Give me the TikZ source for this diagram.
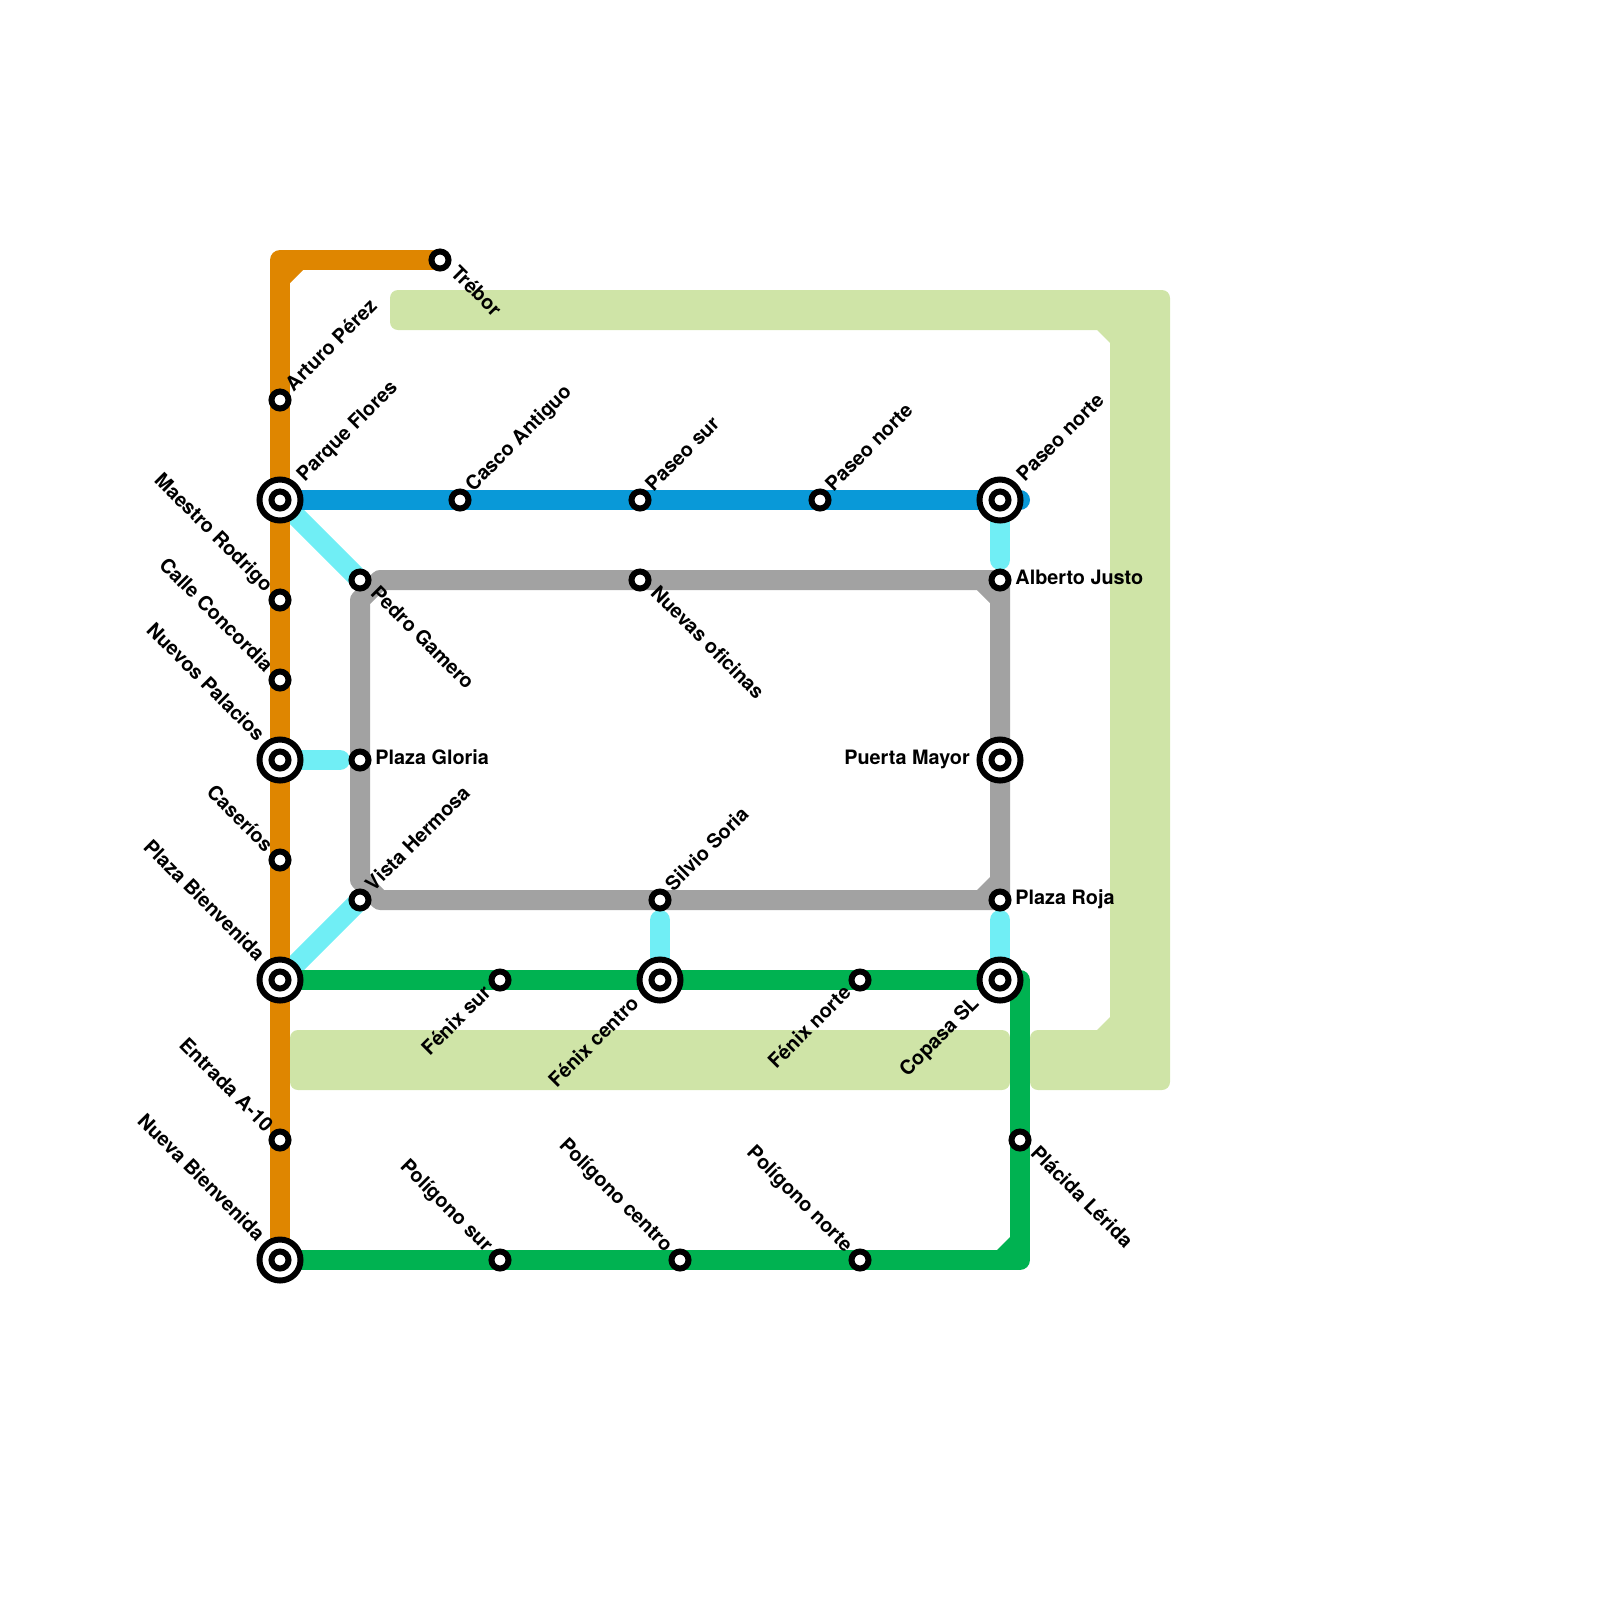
\documentclass[tikz,border=0pt]{standalone}
\usepackage{fontspec}
\setmainfont{TeX Gyre Heros}
\usepackage{tikz}
\pgfdeclarelayer{lines}
\pgfsetlayers{lines,main}
\definecolor{lineOrange}{RGB}{223,134,0}
\definecolor{lineBlue}{RGB}{9,153,216}
\definecolor{lineGreen}{RGB}{0,178,81}
\definecolor{lineCyan}{RGB}{112,238,245}
\definecolor{lineGrey}{RGB}{162,162,162}
\definecolor{zone}{RGB}{207,228,167}
\newcommand{\newStop}[4]{\node[stop](#1) at (#2){}; \node[stopLabel,#4](#1Label) at (#1){#3};}
\newcommand{\newHub}[4]{\node[hub](#1) at (#2){}; \node[stop](#1Core) at (#1){}; \node[stopLabel,#4](#1Label) at (#1){#3};}
\newcommand{\newChamfer}[4]{\fill[#1] (#2) -- (#3) -- (#4) -- cycle;}

\begin{document}
\begin{tikzpicture}[
    % One unit is one cell of the map grid
    x=.5cm,y=-.5cm,
    % Default line look
    mapLine/.style={line width=.5cm,line cap=round,line join=round},
    toStop/.style={shorten >=.5cm},
    % Stations
    stop/.style={circle,draw=black,fill=white,line width=.15cm,minimum size=.425cm,inner sep=0pt},
    hub/.style={circle,draw=black,fill=white,line width=.15cm,minimum size=1.025cm,inner sep=0pt},
    stopLabel/.style={inner sep=0pt,font=\bfseries\fontsize{14.1}{16}\selectfont},
    % Label sides, small stop
    labNE/.style={xshift=.336cm,yshift=.194cm,rotate=45,anchor=base west},
    labSE/.style={xshift=.234cm,yshift=-.346cm,rotate=-45,anchor=base west},
    labNW/.style={xshift=-.376cm,yshift=.174cm,rotate=-45,anchor=base east},
    labSW/.style={xshift=-.194cm,yshift=-.346cm,rotate=45,anchor=base east},
    labE/.style={xshift=.38cm,yshift=-.11cm,anchor=base west},
    % Label sides, hub
    hubNE/.style={xshift=.616cm,yshift=.444cm,rotate=45,anchor=base west},
    hubNW/.style={xshift=-.586cm,yshift=.444cm,rotate=-45,anchor=base east},
    hubSW/.style={xshift=-.494cm,yshift=-.616cm,rotate=45,anchor=base east},
    hubW/.style={xshift=-.75cm,yshift=-.11cm,anchor=base east}
    ]
    \useasboundingbox (0,0) rectangle (80,80);

    % Orange line
    \newStop{trebor}{22,13}{Trébor}{labSE}
    \newStop{arturo}{14,20}{Arturo Pérez}{labNE}
    \newHub{parque}{14,25}{Parque Flores}{hubNE}
    \newStop{maestro}{14,30}{Maestro Rodrigo}{labNW}
    \newStop{calle}{14,34}{Calle Concordia}{labNW}
    \newHub{palacios}{14,38}{Nuevos Palacios}{hubNW}
    \newStop{caserios}{14,43}{Caseríos}{labNW}
    \newHub{bienvenida}{14,49}{Plaza Bienvenida}{hubNW}
    \newStop{entrada}{14,57}{Entrada A-10}{labNW}
    \newHub{nueva}{14,63}{Nueva Bienvenida}{hubNW}

    % Blue line
    \newStop{casco}{23,25}{Casco Antiguo}{labNE}
    \newStop{paseoSur}{32,25}{Paseo sur}{labNE}
    \newStop{paseoNorte}{41,25}{Paseo norte}{labNE}
    \newHub{paseoEste}{50,25}{Paseo norte}{hubNE}
    \coordinate (blueEnd) at (51,25);

    % Grey line
    \newStop{gamero}{18,29}{Pedro Gamero}{labSE}
    \newStop{oficinas}{32,29}{Nuevas oficinas}{labSE}
    \newStop{alberto}{50,29}{Alberto Justo}{labE}
    \newStop{gloria}{18,38}{Plaza Gloria}{labE}
    \newHub{puerta}{50,38}{Puerta Mayor}{hubW}
    \newStop{hermosa}{18,45}{Vista Hermosa}{labNE}
    \newStop{silvio}{33,45}{Silvio Soria}{labNE}
    \newStop{roja}{50,45}{Plaza Roja}{labE}

    % Green line
    \newStop{fenixSur}{25,49}{Fénix sur}{labSW}
    \newHub{fenixCentro}{33,49}{Fénix centro}{hubSW}
    \newStop{fenixNorte}{43,49}{Fénix norte}{labSW}
    \newHub{copasa}{50,49}{Copasa SL}{hubSW}
    \newStop{placida}{51,57}{Plácida Lérida}{labSE}
    \newStop{poligonoSur}{25,63}{Polígono sur}{labNW}
    \newStop{poligonoCentro}{34,63}{Polígono centro}{labNW}
    \newStop{poligonoNorte}{43,63}{Polígono norte}{labNW}

    \begin{pgfonlayer}{lines}
    % Zone behind the lines
    \fill[zone,rounded corners=.2cm] (19.5,14.5) -- (58.5,14.5) -- (58.5,54.5) -- (51.5,54.5) -- (51.5,51.5)
        [sharp corners] -- (54.85,51.5) -- (55.5,50.85) -- (55.5,17.15) -- (54.85,16.5)
        [rounded corners=.2cm] -- (19.5,16.5) -- cycle;
    \fill[zone,rounded corners=.2cm] (14.5,51.5) rectangle (50.5,54.5);

    \draw[mapLine,lineCyan] (parque.center) -- (gamero.center);
    \draw[mapLine,lineCyan,toStop] (palacios.center) -- (gloria.center);
    \draw[mapLine,lineCyan] (bienvenida.center) -- (hermosa.center);
    \draw[mapLine,lineCyan,toStop] (paseoEste.center) -- (alberto.center);
    \draw[mapLine,lineCyan,toStop] (copasa.center) -- (roja.center);
    \draw[mapLine,lineCyan,toStop] (fenixCentro.center) -- (silvio.center);

    \draw[mapLine,lineBlue] (parque.center) -- (blueEnd);

    \draw[mapLine,lineGrey] (19,29) -- (alberto.center) -- (roja.center) -- (19,45) -- (18,44) -- (18,30) -- cycle;
    \newChamfer{lineGrey}{48.85,29.5}{49.5,29.5}{49.5,30.15}
    \newChamfer{lineGrey}{48.85,44.5}{49.5,44.5}{49.5,43.85}

    \draw[mapLine,lineGreen] (bienvenida.center) -| (placida.center) |- (nueva.center);
    \newChamfer{lineGreen}{49.85,62.5}{50.5,62.5}{50.5,61.85}

    \draw[mapLine,lineOrange] (trebor.center) -| (nueva.center);
    \newChamfer{lineOrange}{14.5,13.5}{15.15,13.5}{14.5,14.15}
    \end{pgfonlayer}
  \end{tikzpicture}
\end{document}
